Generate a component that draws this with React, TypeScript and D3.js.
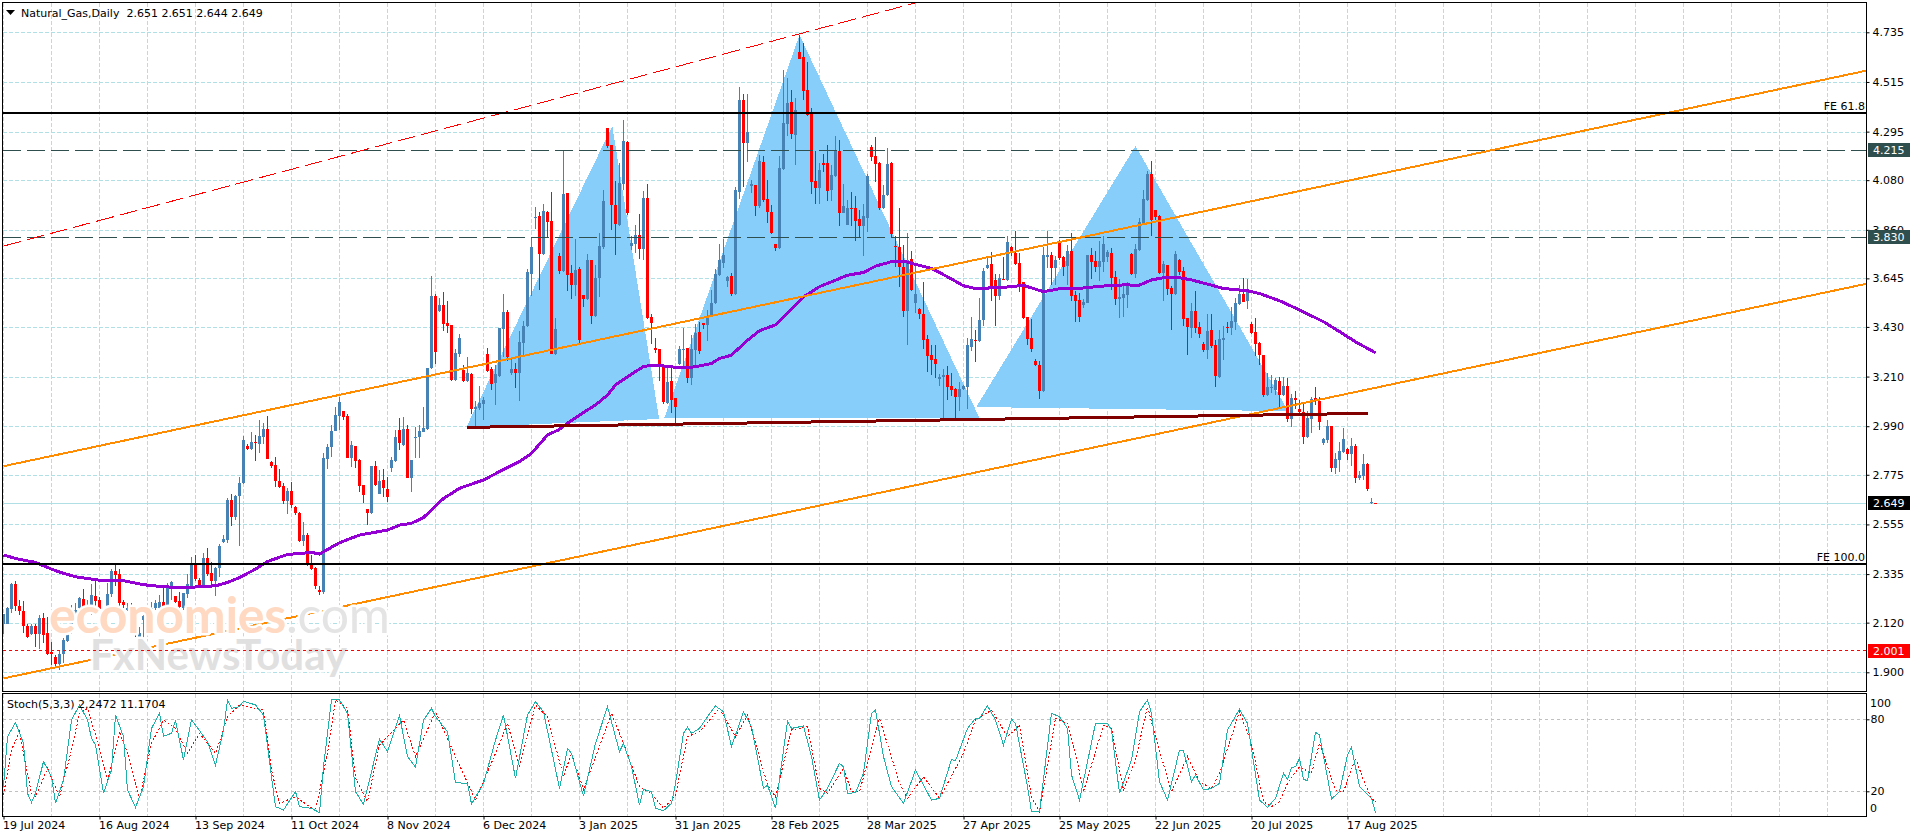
import { useEffect, useRef } from 'react'
import * as d3 from 'd3'

const W = 1916
const H = 840
const LEFT = 3
const RIGHT = 1866.5
const PRICE_TOP = 2.5
const PRICE_BOTTOM = 691.5
const STOCH_TOP = 693.5
const STOCH_BOTTOM = 816.5

const colors = {
  grid: '#B0E0E6',
  up: '#4682B4',
  down: '#FF0000',
  pattern: '#87CEFA',
  ma: '#9400D3',
  channel: '#FF8C00',
  neck: '#800000',
  level: '#2F4F4F',
  stochMain: '#20B2AA',
  stochLevel: '#C0C0C0',
}

const font = '"DejaVu Sans", sans-serif'

const priceTicks = [4.735, 4.515, 4.295, 4.08, 3.86, 3.645, 3.43, 3.21, 2.99, 2.775, 2.555, 2.335, 2.12, 1.9]
const dateBars = [0, 24, 48, 72, 96, 120, 144, 168, 192, 216, 240, 264, 288, 312, 336]
const dateLabels = [
  '19 Jul 2024', '16 Aug 2024', '13 Sep 2024', '11 Oct 2024', '8 Nov 2024', '6 Dec 2024', '3 Jan 2025', '31 Jan 2025',
  '28 Feb 2025', '28 Mar 2025', '27 Apr 2025', '25 May 2025', '22 Jun 2025', '20 Jul 2025', '17 Aug 2025',
]

const opens = [
  2.112,2.116,2.180,2.292,2.193,2.173,2.106,2.069,2.106,2.069,
  2.140,2.074,1.991,1.969,1.935,1.981,2.038,2.072,2.161,2.187,
  2.224,2.187,2.193,2.239,2.220,2.142,2.176,2.246,2.348,2.335,
  2.212,2.176,2.184,2.102,2.057,2.131,2.153,2.173,2.183,2.184,
  2.212,2.187,2.272,2.238,2.215,2.187,2.246,2.282,2.375,2.311,
  2.282,2.406,2.341,2.303,2.362,2.478,2.486,2.663,2.589,2.681,
  2.737,2.902,2.889,2.920,2.911,2.944,2.978,2.833,2.818,2.747,
  2.725,2.659,2.704,2.632,2.607,2.481,2.508,2.376,2.360,2.264,
  2.254,2.846,2.896,2.970,3.037,3.057,3.035,2.849,2.902,2.840,
  2.729,2.622,2.604,2.814,2.692,2.752,2.712,2.803,2.837,2.973,
  2.907,2.978,2.762,2.936,2.944,2.966,2.976,3.246,3.567,3.500,
  3.527,3.446,3.438,3.195,3.310,3.239,3.190,3.221,3.066,3.071,
  3.088,3.310,3.243,3.181,3.212,3.421,3.496,3.226,3.243,3.226,
  3.358,3.434,3.664,3.912,3.921,3.753,3.939,3.899,3.310,3.744,
  3.677,4.023,3.669,3.615,3.686,3.571,3.553,3.726,3.478,3.646,
  3.784,4.311,4.236,3.970,3.881,4.063,4.249,3.788,3.797,3.837,
  3.775,4.001,3.474,3.336,3.332,3.261,3.093,3.190,3.115,3.265,
  3.327,3.336,3.203,3.327,3.407,3.447,3.438,3.478,3.534,3.660,
  3.714,3.634,3.655,3.574,4.027,4.435,4.244,4.054,4.058,3.965,
  4.160,3.996,3.939,3.797,3.779,4.129,4.329,4.426,4.280,4.648,
  4.625,4.479,4.373,4.076,4.045,4.154,4.156,4.036,4.098,4.209,
  3.934,3.881,3.956,3.956,3.908,3.877,3.912,4.227,4.187,4.156,
  3.956,4.014,4.156,3.788,3.784,3.695,3.500,3.730,3.535,3.509,
  3.487,3.376,3.305,3.287,3.199,3.207,3.216,3.168,3.154,3.119,
  3.154,3.163,3.340,3.371,3.367,3.460,3.691,3.708,3.637,3.566,
  3.642,3.637,3.784,3.757,3.713,3.628,3.473,3.380,3.278,3.261,
  3.146,3.741,3.748,3.690,3.801,3.741,3.699,3.766,3.571,3.549,
  3.527,3.536,3.748,3.722,3.695,3.717,3.739,3.757,3.651,3.553,
  3.558,3.571,3.753,3.664,3.770,3.890,3.992,4.107,3.948,3.921,
  3.668,3.704,3.602,3.575,3.726,3.677,3.469,3.425,3.500,3.429,
  3.354,3.327,3.416,3.349,3.208,3.372,3.429,3.425,3.451,3.531,
  3.576,3.545,3.443,3.407,3.358,3.305,3.128,3.159,3.150,3.190,
  3.128,3.168,3.022,3.115,3.066,3.053,2.942,3.022,3.115,3.101,
  2.915,2.928,2.991,2.805,2.840,2.876,2.889,2.866,2.902,2.760,
  2.769,2.822,2.649,2.651,
]

const highs = [
  2.158,2.190,2.297,2.304,2.220,2.217,2.116,2.116,2.113,2.153,
  2.164,2.146,2.035,1.976,1.994,2.054,2.109,2.198,2.205,2.235,
  2.269,2.220,2.289,2.308,2.235,2.176,2.294,2.356,2.375,2.356,
  2.220,2.205,2.205,2.116,2.102,2.153,2.156,2.213,2.220,2.242,
  2.272,2.294,2.306,2.239,2.257,2.252,2.335,2.412,2.419,2.316,
  2.427,2.449,2.390,2.368,2.467,2.508,2.670,2.690,2.685,2.766,
  2.948,2.911,2.964,2.951,3.017,3.003,3.035,2.837,2.852,2.800,
  2.740,2.715,2.744,2.636,2.611,2.567,2.515,2.419,2.368,2.282,
  2.870,2.911,2.995,3.077,3.118,3.059,3.044,2.924,2.904,2.843,
  2.729,2.622,2.814,2.836,2.796,2.799,2.766,2.855,2.973,3.025,
  3.032,2.995,2.840,2.988,2.995,3.077,3.250,3.655,3.576,3.558,
  3.584,3.545,3.438,3.332,3.398,3.261,3.296,3.224,3.102,3.168,
  3.119,3.336,3.253,3.261,3.425,3.576,3.505,3.291,3.270,3.410,
  3.456,3.686,3.827,3.961,3.939,3.974,3.943,4.028,3.469,3.757,
  4.213,4.023,3.704,3.819,3.695,3.571,3.753,3.726,3.704,3.844,
  4.036,4.311,4.236,4.076,4.154,4.346,4.253,3.832,3.881,3.930,
  4.032,4.063,3.487,3.381,3.332,3.261,3.253,3.250,3.115,3.345,
  3.425,3.336,3.394,3.445,3.451,3.447,3.505,3.593,3.686,3.797,
  3.819,3.657,3.667,4.048,4.491,4.461,4.461,4.080,4.058,4.191,
  4.187,4.080,3.970,3.797,4.187,4.568,4.532,4.479,4.444,4.723,
  4.687,4.604,4.398,4.209,4.154,4.195,4.235,4.147,4.275,4.258,
  4.063,3.992,4.027,4.009,3.947,3.974,4.107,4.235,4.271,4.160,
  4.058,4.222,4.160,3.832,3.956,3.792,3.846,3.766,3.704,3.513,
  3.628,3.394,3.349,3.349,3.221,3.243,3.256,3.225,3.159,3.185,
  3.173,3.380,3.473,3.416,3.557,3.691,3.735,3.762,3.664,3.664,
  3.739,3.832,3.788,3.854,3.757,3.628,3.473,3.464,3.287,3.278,
  3.784,3.854,3.761,3.744,3.815,3.744,3.793,3.846,3.589,3.580,
  3.553,3.748,3.779,3.766,3.810,3.832,3.770,3.779,3.678,3.642,
  3.620,3.629,3.757,3.797,3.912,4.036,4.120,4.165,3.948,3.926,
  3.722,3.704,3.611,3.766,3.730,3.695,3.469,3.536,3.589,3.451,
  3.363,3.487,3.487,3.372,3.416,3.433,3.451,3.518,3.558,3.615,
  3.646,3.642,3.451,3.469,3.363,3.305,3.225,3.216,3.203,3.208,
  3.208,3.203,3.132,3.146,3.106,3.088,3.057,3.119,3.163,3.119,
  2.937,3.017,2.991,2.871,2.920,2.982,2.893,2.937,2.911,2.791,
  2.867,2.827,2.671,2.651,
]

const lows = [
  2.069,2.116,2.164,2.173,2.153,2.072,2.053,2.065,2.013,2.003,
  2.028,1.976,1.932,1.924,1.910,1.939,2.035,2.069,2.153,2.153,
  2.146,2.176,2.153,2.187,2.168,2.124,2.173,2.235,2.282,2.190,
  2.187,2.173,2.153,2.057,2.031,2.035,2.105,2.161,2.176,2.168,
  2.165,2.184,2.220,2.205,2.146,2.176,2.227,2.279,2.306,2.279,
  2.279,2.326,2.286,2.238,2.323,2.474,2.474,2.548,2.574,2.461,
  2.734,2.884,2.884,2.837,2.870,2.911,2.845,2.805,2.722,2.715,
  2.645,2.601,2.630,2.597,2.478,2.459,2.371,2.353,2.267,2.242,
  2.249,2.800,2.855,2.969,2.973,3.017,2.848,2.808,2.803,2.700,
  2.648,2.552,2.601,2.726,2.690,2.678,2.656,2.788,2.833,2.884,
  2.904,2.762,2.700,2.848,2.848,2.963,2.973,3.243,3.265,3.497,
  3.413,3.404,3.192,3.192,3.295,3.186,3.187,3.044,2.991,3.062,
  3.017,3.231,3.150,3.084,3.209,3.298,3.279,3.217,3.159,3.101,
  3.305,3.429,3.567,3.864,3.593,3.748,3.830,3.310,3.305,3.664,
  3.673,3.589,3.553,3.567,3.354,3.519,3.549,3.442,3.475,3.564,
  3.775,4.222,3.859,3.748,3.877,4.036,3.925,3.770,3.756,3.731,
  3.726,3.465,3.354,3.314,3.191,3.088,3.088,3.048,3.003,3.261,
  3.259,3.180,3.171,3.253,3.310,3.420,3.367,3.475,3.531,3.655,
  3.689,3.608,3.566,3.571,3.995,4.051,4.162,4.024,3.921,3.956,
  3.983,3.891,3.840,3.766,3.776,4.125,4.275,4.262,4.147,4.617,
  4.435,4.364,4.018,3.974,3.974,4.116,3.987,3.987,4.094,3.877,
  3.933,3.880,3.877,3.812,3.823,3.744,3.850,4.165,4.071,3.947,
  3.952,4.009,3.823,3.695,3.608,3.473,3.349,3.590,3.493,3.465,
  3.332,3.230,3.216,3.203,3.168,3.017,3.106,3.124,3.017,3.057,
  3.150,3.066,3.323,3.274,3.363,3.433,3.687,3.546,3.433,3.549,
  3.637,3.634,3.744,3.704,3.584,3.464,3.349,3.318,3.256,3.110,
  3.141,3.690,3.615,3.615,3.726,3.655,3.615,3.544,3.451,3.451,
  3.513,3.534,3.642,3.673,3.633,3.673,3.717,3.593,3.527,3.469,
  3.473,3.513,3.660,3.646,3.766,3.886,3.989,3.832,3.903,3.664,
  3.544,3.571,3.416,3.573,3.660,3.434,3.305,3.380,3.403,3.380,
  3.318,3.287,3.336,3.163,3.203,3.283,3.403,3.394,3.416,3.527,
  3.539,3.509,3.398,3.301,3.261,3.119,3.123,3.135,3.128,3.075,
  3.123,3.008,2.986,3.066,3.048,2.911,2.940,2.960,3.084,2.973,
  2.906,2.915,2.787,2.778,2.787,2.871,2.840,2.813,2.738,2.751,
  2.751,2.703,2.645,2.644,
]

const closes = [
  2.158,2.186,2.292,2.193,2.173,2.106,2.057,2.106,2.069,2.140,
  2.065,1.982,1.979,1.935,1.981,2.043,2.068,2.161,2.176,2.227,
  2.187,2.198,2.242,2.217,2.180,2.131,2.246,2.350,2.331,2.208,
  2.198,2.183,2.161,2.065,2.072,2.150,2.143,2.183,2.205,2.212,
  2.168,2.282,2.298,2.210,2.190,2.252,2.291,2.375,2.313,2.283,
  2.406,2.335,2.303,2.362,2.461,2.490,2.663,2.589,2.681,2.738,
  2.929,2.887,2.921,2.917,2.947,2.978,2.845,2.814,2.747,2.719,
  2.659,2.704,2.641,2.604,2.481,2.508,2.382,2.357,2.282,2.257,
  2.848,2.896,2.969,3.040,3.099,3.032,2.851,2.907,2.836,2.725,
  2.685,2.604,2.814,2.729,2.747,2.715,2.678,2.840,2.944,2.914,
  2.978,2.762,2.840,2.944,2.969,2.981,3.249,3.567,3.319,3.527,
  3.443,3.434,3.195,3.314,3.381,3.190,3.226,3.066,3.075,3.093,
  3.106,3.234,3.177,3.221,3.425,3.496,3.296,3.243,3.226,3.363,
  3.434,3.673,3.784,3.917,3.753,3.943,3.895,3.310,3.420,3.677,
  4.019,3.660,3.615,3.682,3.372,3.553,3.726,3.478,3.646,3.788,
  3.988,4.231,3.970,3.886,4.067,4.253,3.934,3.801,3.837,3.775,
  4.001,3.469,3.447,3.327,3.257,3.097,3.186,3.106,3.075,3.332,
  3.332,3.203,3.330,3.403,3.323,3.438,3.474,3.536,3.664,3.726,
  3.748,3.652,3.575,4.036,4.435,4.244,4.293,4.063,3.965,4.165,
  3.992,3.939,3.846,3.779,4.133,4.333,4.421,4.284,4.391,4.617,
  4.475,4.368,4.072,4.045,4.125,4.147,4.032,4.103,4.209,3.934,
  3.965,3.956,3.952,3.899,3.877,3.921,4.098,4.182,4.151,3.956,
  4.014,4.151,3.841,3.784,3.695,3.500,3.726,3.593,3.575,3.487,
  3.371,3.300,3.283,3.265,3.207,3.216,3.163,3.150,3.119,3.154,
  3.168,3.349,3.376,3.367,3.460,3.677,3.704,3.611,3.566,3.646,
  3.637,3.806,3.766,3.708,3.620,3.469,3.376,3.332,3.261,3.146,
  3.748,3.748,3.690,3.726,3.735,3.697,3.766,3.567,3.544,3.473,
  3.540,3.748,3.717,3.695,3.722,3.797,3.762,3.646,3.553,3.562,
  3.575,3.615,3.664,3.775,3.894,3.996,4.107,3.903,3.917,3.668,
  3.708,3.598,3.575,3.753,3.673,3.465,3.429,3.500,3.425,3.398,
  3.327,3.411,3.345,3.212,3.376,3.381,3.426,3.456,3.536,3.576,
  3.540,3.598,3.403,3.354,3.305,3.128,3.163,3.163,3.194,3.128,
  3.168,3.022,3.115,3.106,3.053,2.942,3.026,3.110,3.106,3.008,
  2.933,2.991,2.805,2.844,2.880,2.933,2.866,2.902,2.760,2.773,
  2.822,2.712,2.653,2.649,
]

// moving average, read at its turning points
const maBars = [0,4,8,12,14,18,24,30,35,40,45,53,56,59,63,66,71,77,79,84,89,96,99,102,105,107,110,114,120,124,129,132,136,139,141,146,148,151,153,156,158,160,162,165,168,172,174,177,179,182,186,189,193,196,200,204,208,211,215,218,222,225,228,232,236,240,243,250,255,260,264,269,275,280,284,287,290,293,297,302,305,311,314,319,324,330,334,338,343]
const maValues = [2.419,2.400,2.387,2.357,2.344,2.323,2.308,2.306,2.288,2.279,2.275,2.283,2.298,2.320,2.357,2.391,2.422,2.431,2.424,2.474,2.508,2.530,2.552,2.560,2.586,2.619,2.670,2.715,2.752,2.789,2.833,2.870,2.951,2.976,3.003,3.062,3.084,3.128,3.173,3.209,3.232,3.254,3.260,3.257,3.251,3.251,3.257,3.268,3.290,3.305,3.371,3.413,3.439,3.490,3.563,3.608,3.637,3.659,3.671,3.699,3.719,3.722,3.707,3.689,3.652,3.612,3.600,3.605,3.614,3.586,3.599,3.601,3.611,3.616,3.615,3.638,3.648,3.651,3.638,3.615,3.600,3.590,3.578,3.546,3.505,3.453,3.409,3.364,3.315]

const stochBars = [0,1,3,5,6,7,8,10,12,13,15,17,19,21,22,23,25,27,28,30,31,33,35,37,39,40,42,43,45,47,48,51,53,55,56,57,59,60,63,65,67,68,70,73,74,77,79,80,82,84,86,88,90,94,96,99,101,103,105,107,108,111,113,116,117,120,123,125,128,131,133,135,139,141,142,145,148,151,154,155,157,159,160,162,163,165,167,168,170,171,172,174,176,178,180,182,185,187,190,191,193,196,197,200,202,204,206,209,210,211,213,215,217,218,220,222,225,228,232,234,237,238,241,243,244,246,248,250,252,253,256,257,259,262,264,266,267,269,273,276,277,279,282,284,286,287,289,291,294,295,297,298,300,302,304,306,309,311,314,316,318,320,321,322,323,324,325,326,328,329,332,334,336,337,339,342,343]
const stochValues = [23.9,65.5,77.2,60,18.3,10.8,18.3,44.7,32.2,10,29.4,79.4,91.9,79.4,64.1,58.6,18.3,37.7,83.6,65.5,21.1,6.6,23.9,72.4,85,66,68.3,79.4,46.1,79.4,75.2,61.3,41.9,71.1,96.1,89.1,90.5,95.2,91.9,83.6,32.2,7.2,4.4,19.7,7.2,5.8,2.2,40.5,96.1,96.1,85,19.7,9.1,63.6,53,83,48.9,40,79.4,89.1,82.2,69.7,27.2,26.6,9.4,26.6,62.7,83.6,30.8,83.6,94.7,86.3,22.4,55.8,51.6,16.1,60,90.5,53,60,40.5,8.6,21.6,19.7,5.8,3.8,10,26.6,68.3,73.3,68.3,72.4,82.2,91.1,86.3,57.2,86.3,73.8,22.4,25.2,5.8,78.6,72.4,74.4,48.9,12.7,22.4,43.3,40.5,18.3,18.8,35,85,87.7,48.9,23.9,10,37.7,12.7,14.1,46.6,45.5,72.4,80.8,80.8,91.3,79.4,58.6,80.2,76.6,23.9,3,3,85,82.2,72.4,33.6,12.7,76.6,76.6,71.1,18.3,46.1,86.3,96.1,85,28,12.7,54.4,53.8,28,33.6,21.1,22.4,26.6,71.1,88.3,76.6,12.7,6.6,14.1,35,30,39.7,40.5,47.5,30,28.8,69.1,66.9,13.6,19.7,50.2,56.6,23.9,14.1,2.2]

const signalBars = [0,2,4,5,7,8,11,14,17,19,21,23,26,29,31,34,37,40,43,46,49,53,56,59,65,67,69,73,78,81,83,86,88,91,94,100,103,108,113,118,123,126,129,133,136,140,142,145,152,155,159,162,165,168,171,174,179,183,186,191,193,197,201,204,206,210,212,214,219,224,226,230,234,240,243,247,251,254,257,259,263,266,268,270,275,277,280,283,286,288,292,296,299,302,304,309,312,315,317,319,321,324,327,329,333,335,338,340,342,343]
const signalValues = [16.9,54.4,69.7,51.6,18.3,15.5,39.1,15.5,54.4,85,89.1,66.9,29.4,69.7,51.6,14.1,60,79.4,72.4,51.6,68.3,51.6,82.2,91.9,87.7,37.7,10,15.5,3.8,51.6,96.1,89.1,30.8,11.3,58.6,79.4,48.9,86.3,48.9,12.7,51.6,76.6,40.5,91.9,82.2,32.2,51.6,21.1,85,60,23.9,18.3,5.8,16.9,65.5,69.7,89.1,65.5,83.6,25.2,15.5,71.1,73.8,22.4,18.3,39.1,19.7,19.7,80.8,26.6,14.1,32.2,14.1,51.6,79.4,87.7,65.5,75.2,15.5,3,80.8,76.6,51.6,19.7,75.2,72.4,21.1,46.1,90.5,65.5,19.7,48.9,28,22.4,35,86.3,60,11.3,7.2,11.3,26.6,40.5,35,60,21.1,19.7,47.5,29.4,14.1,11.2]

const patternBars = [[115.7, 152.2, 163.9], [165.2, 199, 244], [243.2, 283, 321.2]]
const patternPrices = [[2.986, 4.32, 3.022], [3.026, 4.723, 3.026], [3.075, 4.231, 3.057]]

const channelBars = [0, 465.7]
const channelUpper = [2.813, 4.565]
const channelLower = [1.873, 3.621]
const redLineBars = [0, 228.6]
const redLine = [3.788, 4.868]
const neckBars = [115.8, 341.2]
const neckPrices = [2.985, 3.047]

const fibLevels = [4.378, 2.38]
const fibLabels = ['FE 61.8', 'FE 100.0']
const dashedLevels = [4.215, 3.83]
const supportLevel = 2.001
const lastPrice = 2.649

function render(el: SVGSVGElement) {
  const svg = d3.select(el).attr('width', W).attr('height', H).attr('viewBox', `0 0 ${W} ${H}`)
    .style('font-family', font).style('font-size', '11px')

  const x = d3.scaleLinear().domain([0, 465.7]).range([3.5, 1866.3])
  const y = d3.scaleLinear().domain([4.735, 1.9]).range([32.3, 672.3])
  const yS = d3.scaleLinear().domain([0, 100]).range([815.3, 695.3])

  svg.append('rect').attr('width', W).attr('height', H).attr('fill', '#fff')

  const defs = svg.append('defs')
  defs.append('clipPath').attr('id', 'price-clip').append('rect')
    .attr('x', LEFT).attr('y', PRICE_TOP).attr('width', RIGHT - LEFT).attr('height', PRICE_BOTTOM - PRICE_TOP)
  defs.append('clipPath').attr('id', 'stoch-clip').append('rect')
    .attr('x', LEFT).attr('y', STOCH_TOP).attr('width', RIGHT - LEFT).attr('height', STOCH_BOTTOM - STOCH_TOP)

  // Grid
  const gridBars = d3.range(0, 465, 12)
  const gridG = svg.append('g').attr('stroke', colors.grid).attr('stroke-dasharray', '4,2').attr('shape-rendering', 'crispEdges')
  gridBars.forEach((b) => {
    gridG.append('line').attr('x1', x(b)).attr('x2', x(b)).attr('y1', PRICE_TOP).attr('y2', PRICE_BOTTOM)
    gridG.append('line').attr('x1', x(b)).attr('x2', x(b)).attr('y1', STOCH_TOP).attr('y2', STOCH_BOTTOM)
  })
  priceTicks.forEach((p) => {
    gridG.append('line').attr('x1', LEFT).attr('x2', RIGHT).attr('y1', Math.round(y(p)) + 0.5).attr('y2', Math.round(y(p)) + 0.5)
  })

  const main = svg.append('g').attr('clip-path', 'url(#price-clip)')

  // Head and shoulders shapes
  patternBars.forEach((bars, k) => {
    const pts = bars.map((b, i) => [x(b), y(patternPrices[k][i])] as [number, number])
    main.append('path').attr('d', d3.line()(pts) + 'Z').attr('fill', colors.pattern).attr('shape-rendering', 'crispEdges')
  })

  // Last price line
  main.append('line').attr('x1', LEFT).attr('x2', RIGHT).attr('y1', Math.round(y(lastPrice)) + 0.5).attr('y2', Math.round(y(lastPrice)) + 0.5)
    .attr('stroke', colors.grid).attr('shape-rendering', 'crispEdges')

  // Candles
  const candles = main.append('g').attr('shape-rendering', 'crispEdges')
  opens.forEach((o, i) => {
    const c = closes[i]
    const color = c >= o ? colors.up : colors.down
    const top = Math.round(y(Math.max(o, c)))
    const bottom = Math.round(y(Math.min(o, c)))
    candles.append('rect').attr('x', x(i) - 0.5).attr('width', 1)
      .attr('y', Math.round(y(highs[i]))).attr('height', Math.max(1, Math.round(y(lows[i])) - Math.round(y(highs[i]))))
      .attr('fill', color)
    candles.append('rect').attr('x', x(i) - 1.5).attr('width', 3)
      .attr('y', top).attr('height', Math.max(1, bottom - top))
      .attr('fill', color)
  })

  // Moving average
  const maLine = d3.line<number>().x((b) => x(b)).y((_, i) => y(maValues[i]))
  main.append('path').attr('d', maLine(maBars)).attr('fill', 'none').attr('stroke', colors.ma).attr('stroke-width', 3)
    .attr('shape-rendering', 'crispEdges')

  const seg = (bars: number[], prices: number[]) =>
    d3.line()(bars.map((b, i) => [x(b), y(prices[i])] as [number, number]))

  // Dashed levels and channel
  const objects = main.append('g').attr('fill', 'none').attr('shape-rendering', 'crispEdges')
  dashedLevels.forEach((p) => {
    objects.append('line').attr('x1', LEFT).attr('x2', RIGHT).attr('y1', Math.round(y(p)) + 0.5).attr('y2', Math.round(y(p)) + 0.5)
      .attr('stroke', colors.level).attr('stroke-dasharray', '18,6')
  })
  objects.append('path').attr('d', seg(redLineBars, redLine)).attr('stroke', colors.down).attr('stroke-dasharray', '18,6')
  objects.append('path').attr('d', seg(channelBars, channelUpper)).attr('stroke', colors.channel).attr('stroke-width', 2)
  objects.append('path').attr('d', seg(channelBars, channelLower)).attr('stroke', colors.channel).attr('stroke-width', 2)
  objects.append('path').attr('d', seg(neckBars, neckPrices)).attr('stroke', colors.neck).attr('stroke-width', 3)

  fibLevels.forEach((p, i) => {
    objects.append('line').attr('x1', LEFT).attr('x2', RIGHT).attr('y1', y(p)).attr('y2', y(p))
      .attr('stroke', '#000').attr('stroke-width', 2)
    svg.append('text').attr('x', 1865).attr('y', y(p) - 3).attr('text-anchor', 'end').attr('fill', '#000').text(fibLabels[i])
  })

  // Watermark
  const wm = svg.append('g').attr('font-family', 'Lato, "Open Sans", sans-serif').attr('paint-order', 'stroke')
    .attr('stroke', '#fff').attr('stroke-width', 5).attr('stroke-linejoin', 'round')
  const wm1 = wm.append('text').attr('x', 49).attr('y', 633).attr('font-size', 50).attr('textLength', 341)
  wm1.append('tspan').attr('fill', '#FFD9C2').attr('font-weight', 700).text('economies')
  wm1.append('tspan').attr('fill', '#E4E4E4').text('.com')
  wm.append('text').attr('x', 90).attr('y', 670).attr('font-size', 42).attr('font-weight', 700).attr('textLength', 257)
    .attr('fill', '#E0E0E0').text('FxNewsToday')

  // Support level drawn above the watermark
  svg.append('line').attr('x1', LEFT).attr('x2', RIGHT)
    .attr('y1', Math.ceil(y(supportLevel)) + 0.5).attr('y2', Math.ceil(y(supportLevel)) + 0.5)
    .attr('stroke', colors.down).attr('stroke-dasharray', '3,3').attr('shape-rendering', 'crispEdges')

  // Stochastic pane
  const stoch = svg.append('g').attr('clip-path', 'url(#stoch-clip)').attr('shape-rendering', 'crispEdges')
  ;[80, 20].forEach((lv) => {
    stoch.append('line').attr('x1', LEFT).attr('x2', RIGHT).attr('y1', Math.round(yS(lv)) + 0.5).attr('y2', Math.round(yS(lv)) + 0.5)
      .attr('stroke', colors.stochLevel).attr('stroke-dasharray', '3,3')
  })
  const signalLine = d3.line<number>().x((b) => x(b)).y((_, i) => yS(signalValues[i]))
  stoch.append('path').attr('d', signalLine(signalBars)).attr('fill', 'none').attr('stroke', colors.down).attr('stroke-dasharray', '2,2')
  const stochLine = d3.line<number>().x((b) => x(b)).y((_, i) => yS(stochValues[i]))
  stoch.append('path').attr('d', stochLine(stochBars)).attr('fill', 'none').attr('stroke', colors.stochMain)

  // Frames
  const frames = svg.append('g').attr('fill', 'none').attr('stroke', '#000').attr('shape-rendering', 'crispEdges')
  frames.append('rect').attr('x', 2.5).attr('y', PRICE_TOP).attr('width', RIGHT - 2.5).attr('height', PRICE_BOTTOM - PRICE_TOP)
  frames.append('rect').attr('x', 2.5).attr('y', STOCH_TOP).attr('width', RIGHT - 2.5).attr('height', STOCH_BOTTOM - STOCH_TOP)

  // Price axis
  svg.append('g').attr('transform', `translate(${RIGHT},0)`)
    .call(d3.axisRight(y).tickValues(priceTicks).tickSize(3).tickPadding(3).tickFormat(d3.format('.3f')) as any)
    .call((sel) => sel.select('.domain').remove())
    .call((sel) => sel.selectAll('text').attr('font-size', 11).attr('font-family', font).attr('fill', '#000'))

  // Price boxes
  const box = (p: number, bg: string, yTop: number, h: number) => {
    svg.append('rect').attr('x', 1868).attr('y', yTop).attr('width', 42).attr('height', h).attr('fill', bg)
    svg.append('text').attr('x', 1873).attr('y', yTop + h / 2).attr('dy', '0.36em').attr('fill', '#fff').text(p.toFixed(3))
  }
  box(dashedLevels[0], colors.level, 143, 14)
  box(dashedLevels[1], colors.level, 230, 14)
  box(lastPrice, '#000', 496, 14)
  box(supportLevel, colors.down, 644, 14)

  // Stochastic axis
  svg.append('g').attr('transform', `translate(${RIGHT},0)`)
    .call(d3.axisRight(yS).tickValues([80, 20]).tickSize(3).tickPadding(1).tickFormat(d3.format('d')) as any)
    .call((sel) => sel.select('.domain').remove())
    .call((sel) => sel.selectAll('text').attr('font-size', 11).attr('font-family', font).attr('fill', '#000'))
  svg.append('text').attr('x', 1870).attr('y', 702.7).attr('dy', '0.36em').attr('fill', '#000').text('100')
  svg.append('text').attr('x', 1870).attr('y', 808.3).attr('dy', '0.36em').attr('fill', '#000').text('0')

  // Time axis
  svg.append('g').attr('transform', `translate(0,${STOCH_BOTTOM})`)
    .call(d3.axisBottom(x).tickValues(dateBars).tickSize(3).tickPadding(2)
      .tickFormat((_, i) => dateLabels[i]) as any)
    .call((sel) => sel.select('.domain').remove())
    .call((sel) => sel.selectAll('text').attr('font-size', 11).attr('font-family', font).attr('fill', '#000')
      .attr('text-anchor', 'start').attr('dx', -1))

  // Titles
  svg.append('path').attr('d', 'M6,10L15,10L10.5,15Z').attr('fill', '#000')
  svg.append('text').attr('x', 21).attr('y', 16.5).attr('fill', '#000').attr('xml:space', 'preserve')
    .text('Natural_Gas,Daily  2.651 2.651 2.644 2.649')
  svg.append('text').attr('x', 7).attr('y', 704).attr('dy', '0.36em').attr('fill', '#000')
    .text('Stoch(5,3,3) 2.2472 11.1704')
}

export default function App() {
  const ref = useRef<SVGSVGElement>(null)

  useEffect(() => {
    if (!ref.current) return
    document.body.style.margin = '0'
    d3.select(ref.current).selectAll('*').remove()
    render(ref.current)
  }, [])

  return <svg ref={ref} style={{ display: 'block', position: 'absolute', left: 0, top: 0 }} />
}
